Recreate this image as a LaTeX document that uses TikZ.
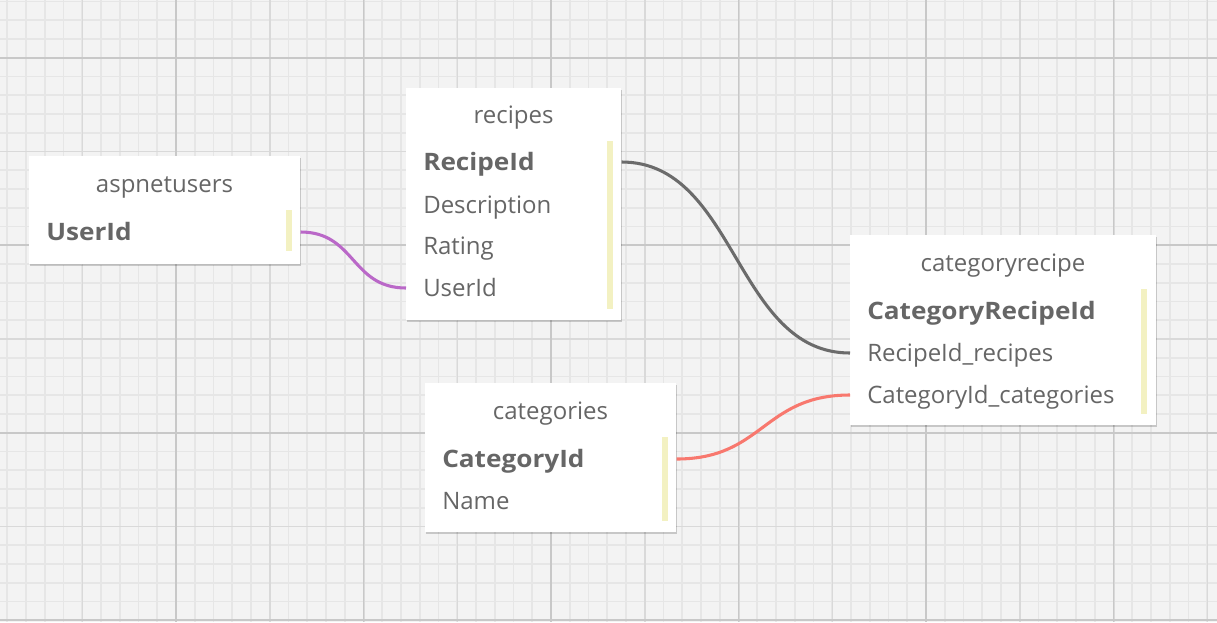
\documentclass[tikz,border=0pt]{standalone}
\usepackage{fontspec}
\setmainfont{Open Sans}[BoldFeatures={FakeStretch=1.09}]
\usetikzlibrary{shadows}
\definecolor{bgc}{HTML}{F3F3F3}
\definecolor{minorc}{HTML}{E6E6E6}
\definecolor{medc}{HTML}{D9D9D9}
\definecolor{majc}{HTML}{C8C8C8}
\definecolor{txtc}{HTML}{666666}
\definecolor{barc}{HTML}{F3F1C2}
\definecolor{purplec}{HTML}{BA68C8}
\definecolor{grayc}{HTML}{6B6B6B}
\definecolor{salmonc}{HTML}{F8786E}
\tikzset{
  minorline/.style={draw=minorc, line width=1.2pt},
  medline/.style={draw=medc, line width=1.2pt},
  majline/.style={draw=majc, line width=1.4pt},
  tbl/.style={fill=white, inner sep=0pt, anchor=north west,
    drop shadow={shadow xshift=0.6pt, shadow yshift=-1.2pt, opacity=0.18, fill=black}},
  ttl/.style={font=\fontsize{18}{20}\selectfont, text=txtc, inner sep=0pt, text height=12.9pt, text depth=0pt},
  rowt/.style={font=\fontsize{18}{20}\selectfont, text=txtc, inner sep=0pt, anchor=west, text height=12.9pt, text depth=0pt},
  rowb/.style={rowt, font=\fontsize{18}{20}\selectfont\bfseries},
  barnode/.style={fill=barc, inner sep=0pt, anchor=north west, minimum width=4.5pt},
  link/.style={line width=2.3pt},
}
\begin{document}
\begin{tikzpicture}[x=0.75pt,y=-0.75pt]
\useasboundingbox (0,0) rectangle (1217,622);
\fill[bgc] (0,0) rectangle (1217,622);
% grid
\foreach \i in {0,...,64} \draw[minorline] ({7.25+\i*18.75},0) -- ({7.25+\i*18.75},622);
\foreach \j in {0,...,33} \draw[minorline] (0,{1.45+\j*18.75}) -- (1217,{1.45+\j*18.75});
\foreach \i in {0,...,12} \draw[medline] ({82.5+\i*93.75},0) -- ({82.5+\i*93.75},622);
\foreach \j in {0,...,6} \draw[medline] (0,{57.7+\j*93.75}) -- (1217,{57.7+\j*93.75});
\foreach \i in {0,...,5} \draw[majline] ({176+\i*187.5},0) -- ({176+\i*187.5},622);
\foreach \j in {0,...,3} \draw[majline] (0,{57.7+\j*187.5}) -- (1217,{57.7+\j*187.5});

% aspnetusers
\node[tbl, minimum width=203.25pt, minimum height=81pt] (aspnetusers) at (29,156) {};
\node[ttl] (aspnetusersT) at (164.5,184) {aspnetusers};
\node[rowb] (a1) at (46,232) {UserId};
\node[barnode, minimum height=30.75pt] (aspnetusersB) at (286,210) {};

% recipes
\node[tbl, minimum width=161.25pt, minimum height=174pt] (recipes) at (406,88) {};
\node[ttl] (recipesT) at (513.5,115) {recipes};
\node[rowb] (r1) at (423,162) {RecipeId};
\node[rowt] (r2) at (423,205) {Description};
\node[rowt] (r3) at (423,246) {Rating};
\node[rowt] (r4) at (423,288) {UserId};
\node[barnode, minimum height=126pt] (recipesB) at (607,141) {};

% categoryrecipe
\node[tbl, minimum width=229.5pt, minimum height=142.5pt] (categoryrecipe) at (850,235) {};
\node[ttl] (categoryrecipeT) at (1003,263) {categoryrecipe};
\node[rowb] (c1) at (867,311) {CategoryRecipeId};
\node[rowt] (c2) at (867,353) {RecipeId\_recipes};
\node[rowt] (c3) at (867,395) {CategoryId\_categories};
\node[barnode, minimum height=93.75pt] (categoryrecipeB) at (1141,289) {};

% categories
\node[tbl, minimum width=188.25pt, minimum height=111.75pt] (categories) at (425,383) {};
\node[ttl] (categoriesT) at (550.5,411) {categories};
\node[rowb] (k1) at (442,459) {CategoryId};
\node[rowt] (k2) at (442,501) {Name};
\node[barnode, minimum height=63pt] (categoriesB) at (662,437) {};

% connectors
\draw[link, purplec] (a1 -| aspnetusers.east) .. controls +(55,0) and +(-55,0) .. (r4 -| recipes.west);
\draw[link, grayc] (r1 -| recipes.east) .. controls +(115,0) and +(-115,0) .. (c2 -| categoryrecipe.west);
\draw[link, salmonc] (k1 -| categories.east) .. controls +(87,0) and +(-87,0) .. (c3 -| categoryrecipe.west);
\end{tikzpicture}
\end{document}
